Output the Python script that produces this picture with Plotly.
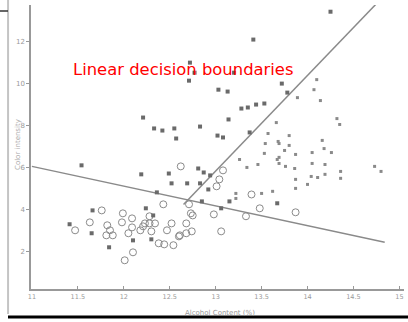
import plotly.graph_objects as go

# Class 3 (filled squares, upper-left of diagonal / mixed)
x_sq = [13.41, 12.77, 12.71, 12.72, 13.20, 13.03, 13.13, 13.28, 13.35, 13.44, 13.53,
        12.21, 12.33, 12.42, 12.55, 12.57, 12.83, 13.02, 13.08, 13.14, 13.37,
        11.54, 12.19, 12.49, 12.52, 12.69, 12.83, 12.36, 12.81, 12.87, 12.94,
        12.92, 12.85, 13.06, 13.15, 12.24, 12.30, 12.10, 11.84, 11.65, 11.66,
        11.41, 12.32, 14.25, 13.72, 13.78, 13.67]
y_sq = [12.10, 10.52, 10.14, 11.00, 10.52, 9.71, 9.62, 8.81, 8.86, 9.00, 9.05,
        8.38, 7.86, 7.76, 7.86, 7.38, 7.95, 7.52, 7.43, 8.29, 7.67,
        6.10, 5.67, 5.71, 5.24, 5.24, 5.24, 4.81, 5.95, 5.76, 5.62,
        4.95, 4.38, 4.05, 4.38, 4.05, 2.57, 2.52, 2.19, 2.86, 3.95,
        3.29, 3.71, 13.43, 10.00, 9.57, 4.29]

# Class 1 (small dots, right of diagonal)
x_dot = [13.89, 14.10, 14.07, 14.14, 13.66, 14.32, 14.35, 13.80, 13.69, 13.80,
         14.16, 14.18, 14.26, 14.05, 13.87, 13.69, 13.75, 13.69, 13.76, 13.86,
         14.05, 14.19, 14.36, 14.36, 14.73, 14.80, 14.04, 14.11, 14.19, 13.87,
         13.87, 14.00, 13.62, 13.57, 13.54, 13.68, 13.53, 13.26, 13.34, 13.46,
         13.67, 13.22, 13.22, 13.50]
y_dot = [9.33, 10.19, 9.71, 9.19, 8.14, 8.33, 8.05, 7.52, 7.14, 7.05,
         7.29, 6.90, 6.71, 6.71, 6.62, 6.48, 6.81, 6.19, 6.05, 5.95,
         6.19, 6.14, 5.81, 5.48, 6.05, 5.81, 5.57, 5.52, 5.67, 5.43,
         5.00, 5.19, 4.86, 7.62, 7.14, 7.24, 6.67, 6.38, 6.00, 6.14,
         6.38, 4.76, 4.52, 4.76]

# Class 2 (open circles)
x_circ = [12.62, 13.08, 13.04, 13.01, 13.39, 13.48, 13.33, 13.87, 12.98, 13.06,
          12.43, 12.71, 12.73, 12.28, 12.28, 12.21, 12.30, 12.52, 12.68, 12.74,
          12.60, 12.68, 12.38, 12.44, 12.54, 12.47, 12.61, 12.75, 12.34, 12.23,
          12.18, 12.09, 12.09, 12.05, 12.10, 12.01, 11.99, 11.98, 11.82, 11.85,
          11.88, 11.81, 11.76, 11.63, 11.47]
y_circ = [6.05, 5.86, 5.43, 5.10, 4.71, 4.05, 3.67, 3.86, 3.76, 2.95,
          4.24, 4.24, 3.81, 3.67, 3.33, 3.19, 2.95, 3.33, 3.33, 2.95,
          2.71, 2.86, 2.38, 2.33, 2.29, 3.00, 2.76, 3.71, 3.33, 3.33,
          3.00, 3.57, 3.14, 2.86, 1.95, 1.57, 3.81, 3.38, 3.24, 3.00,
          2.76, 2.76, 3.95, 3.38, 3.00]

# Decision boundaries
bound1_x = [11.0, 14.84]
bound1_y = [6.05, 2.43]
bound2_x = [12.65, 14.78]
bound2_y = [4.23, 13.95]

x_ticks = [11, 11.5, 12, 12.5, 13, 13.5, 14, 14.5, 15]
x_tick_text = ["11", "11.5", "12", "12.5", "13", "13.5", "14", "14.5", "15"]
y_ticks = [2, 4, 6, 8, 10, 12]
y_tick_text = ["2", "4", "6", "8", "10", "12"]

fig = go.Figure()
fig.add_trace(go.Scatter(x=bound1_x, y=bound1_y, mode="lines",
                         line=dict(color="#8a8a8a", width=1.5), showlegend=False))
fig.add_trace(go.Scatter(x=bound2_x, y=bound2_y, mode="lines",
                         line=dict(color="#8a8a8a", width=1.5), showlegend=False))
fig.add_trace(go.Scatter(x=x_circ, y=y_circ, mode="markers",
                         marker=dict(symbol="circle-open", size=7, color="#8a8a8a",
                                     line=dict(width=1)), showlegend=False))
fig.add_trace(go.Scatter(x=x_sq, y=y_sq, mode="markers",
                         marker=dict(symbol="square", size=4, color="#6a6a6a"),
                         showlegend=False))
fig.add_trace(go.Scatter(x=x_dot, y=y_dot, mode="markers",
                         marker=dict(symbol="square", size=3, color="#8a8a8a"),
                         showlegend=False))

fig.update_layout(
    width=408, height=322,
    margin=dict(l=31, r=4, t=5, b=33),
    paper_bgcolor="white", plot_bgcolor="white",
    xaxis=dict(range=[10.99, 15.05], showgrid=False, zeroline=False,
               showline=True, linecolor="#999999", linewidth=1.5,
               tickvals=x_ticks, ticktext=x_tick_text, ticks="inside",
               ticklen=3, tickcolor="#999999",
               tickfont=dict(family="DejaVu Sans", size=6.5, color="#999999")),
    yaxis=dict(range=[0.2, 13.75], showgrid=False, zeroline=False,
               showline=True, linecolor="#999999", linewidth=1.5,
               tickvals=y_ticks, ticktext=y_tick_text, ticks="outside",
               ticklen=3, tickcolor="#999999",
               tickfont=dict(family="DejaVu Sans", size=7, color="#999999")),
    shapes=[
        dict(type="line", xref="paper", yref="paper", x0=-0.0615, x1=-0.0615,
             y0=1.0 + 5 / 284, y1=-(314 - 289) / 284,
             line=dict(color="#c4c4c4", width=2)),
        dict(type="line", xref="paper", yref="paper", x0=-31 / 373, x1=-23 / 373,
             y0=1 + 6 / 284 * -1, y1=1 + 6 / 284 * -1,
             line=dict(color="#333333", width=1.5)),
        dict(type="line", xref="paper", yref="paper", x0=-23 / 373, x1=1 + 4 / 373,
             y0=-(317 - 289) / 284, y1=-(317 - 289) / 284,
             line=dict(color="black", width=3)),
    ],
    annotations=[
        dict(text="Linear decision boundaries", xref="paper", yref="paper",
             x=(183 - 31) / 373, y=(289 - 58) / 284, showarrow=False,
             font=dict(family="DejaVu Sans", size=16.4, color="#ff0000")),
        dict(text="Alcohol Content (%)", xref="paper", yref="paper",
             x=(220 - 31) / 373, y=(289 - 308) / 284, yanchor="top",
             showarrow=False, borderpad=0,
             font=dict(family="DejaVu Sans", size=7, color="#999999")),
        dict(text="Color intensity", xref="paper", yref="paper",
             x=(12 - 31) / 373, y=(289 - 145) / 284, showarrow=False, textangle=-90,
             font=dict(family="DejaVu Sans", size=7, color="#aaaaaa")),
    ],
)

fig.write_html("out.html")
